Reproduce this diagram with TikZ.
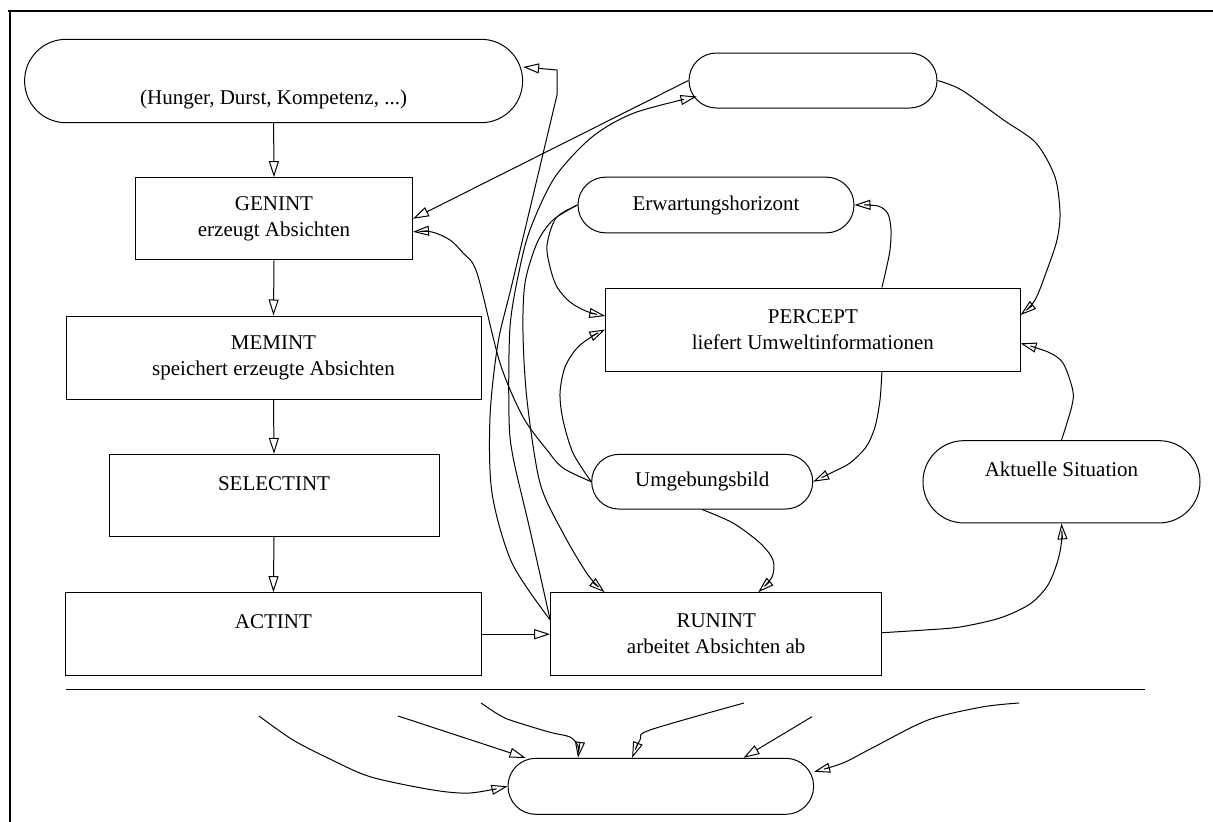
\documentclass[tikz,border=0pt]{standalone}
\usepackage{fontspec}
\setmainfont{Liberation Serif}
\usetikzlibrary{arrows.meta}
\begin{document}
\begin{tikzpicture}[x=1pt,y=-1pt,
  every node/.style={font=\fontsize{21}{26}\selectfont, inner sep=0pt, align=center},
  box/.style={draw, line width=1pt, rectangle},
  pill/.style={draw, line width=1pt, rectangle, rounded corners=#1},
  lowtext/.style={text height=4pt, text depth=15pt},
  arr/.style={line width=1pt, -{Triangle[open,length=16pt,width=10pt]}},
  link/.style={line width=1pt},
  frameline/.style={line width=2.3pt},
  sepline/.style={line width=1.3pt}
]
\useasboundingbox (0,0) rectangle (1213,822);
% frame
\draw[frameline] (8,11) -- (1213,11);
\draw[frameline] (10,10) -- (10,822);
\draw[sepline] (66,689.3) -- (1145,689.3);

% nodes
\node[pill=41.5pt, minimum width=498pt, minimum height=83.4pt, text height=46pt, text depth=0pt] (motive) at (273.6,81) {(Hunger, Durst, Kompetenz, ...)};
\node[pill=27.4pt, minimum width=248pt, minimum height=55pt] (topright) at (813,80.5) {};
\node[box, minimum width=277pt, minimum height=82.3pt] (genint) at (274,218.8) {GENINT\\erzeugt Absichten};
\node[box, minimum width=415pt, minimum height=83pt] (memint) at (273.5,357.5) {MEMINT\\speichert erzeugte Absichten};
\node[box, lowtext, minimum width=330pt, minimum height=82.4pt] (selectint) at (274,495.5) {SELECTINT};
\node[box, lowtext, minimum width=415.3pt, minimum height=83pt] (actint) at (273.4,634.2) {ACTINT};
\node[box, minimum width=331pt, minimum height=83pt] (runint) at (716.2,634.2) {RUNINT\\arbeitet Absichten ab};
\node[pill=27.7pt, minimum width=276pt, minimum height=55.7pt] (erw) at (716,205) {Erwartungshorizont};
\node[box, minimum width=414.3pt, minimum height=83pt] (percept) at (812.9,329.5) {PERCEPT\\liefert Umweltinformationen};
\node[pill=27.2pt, minimum width=221pt, minimum height=54.7pt] (umg) at (702.2,481.7) {Umgebungsbild};
\node[pill=41pt, lowtext, minimum width=277pt, minimum height=82.3pt] (akt) at (1061.5,481.8) {Aktuelle Situation};
\node[pill=27.8pt, minimum width=305.6pt, minimum height=56pt] (bottom) at (660.8,786.3) {};

% main column
\draw[arr] (motive.south) -- (genint.north);
\draw[arr] (genint.south) -- (memint.north);
\draw[arr] (memint.south) -- (selectint.north);
\draw[arr] (selectint.south) -- (actint.north);
\draw[arr] (actint.east) -- (runint.west);

% into GENINT
\draw[arr] (topright.west) -- (genint.east);
\draw[arr] plot[smooth] coordinates {(umg.west) (563,468) (547,450) (523,417) (500,363) (477,273) (463,253) (450,240) (432,232) ([yshift=-13pt]genint.east)};

% from RUNINT upwards
\draw[arr] plot[smooth] coordinates {([yshift=14.2pt]runint.west) (512,563) (492,493) (490,417) (498,343) (513,280) (557,95)} -- (557,70) -- ([yshift=14pt]motive.east);
\draw[arr] plot[smooth] coordinates {([yshift=14.2pt]runint.west) (530,530) (513,457) (509,417) (510,327) (520,267) (531,227) (555,177) (592,137) (634,113) ([xshift=8pt,yshift=-16pt]topright.west)};

% Erwartungshorizont
\draw[arr] plot[smooth] coordinates {(erw.west) (553,220) (537,243) (525,283) (523,333) (527,400) (540,483) (563,533) (588,575) ([xshift=54.4pt]runint.north west)};
\draw[arr] plot[smooth] coordinates {(erw.west) (556,218) (547,245) (550,267) (557,287) (570,302) (587,311.5) ([yshift=13.5pt]percept.west)};

% Umgebungsbild
\draw[arr] plot[smooth] coordinates {(umg.west) (573,453) (563,420) (560,393) (565,367) (577,348) (592,336.5) (percept.west)};
\draw[arr] plot[smooth] coordinates {(umg.south) (733,523) (760,543) (773,560) (772,577) ([xshift=42pt]runint.north)};

% PERCEPT
\draw[arr] plot[smooth] coordinates {([xshift=69pt]percept.north) (886,270) (890,250) (891,230) (888,214) (878,206) (erw.east)};
\draw[arr] plot[smooth] coordinates {([xshift=69pt]percept.south) (880,400) (875,427) (866,447) (850,463) (833,472) (umg.east)};
\draw[arr] plot[smooth] coordinates {(topright.east) (961.5,90) (1003.6,120) (1036,143) (1055,177) (1060,213) (1057,240) (1047,270) (1035,300) ([yshift=14.5pt]percept.east)};
\draw[arr] plot[smooth] coordinates {(akt.north) (1071.7,406.7) (1072.7,390) (1063,363) (1048,352) ([yshift=-13.8pt]percept.east)};
\draw[arr] plot[smooth] coordinates {([yshift=1.5pt]runint.east) (925,630) (960,627) (1000,618) (1030,604) (1048,585) (1058,560) (1061.7,540) (akt.south)};

% bottom part
\coordinate (fa) at (259,716);
\coordinate (fb) at (398,716);
\coordinate (fc) at (481,703);
\coordinate (fd) at (744,703);
\coordinate (fe) at (812,716.7);
\coordinate (ff) at (1019,703);
\draw[arr] plot[smooth] coordinates {(fa) (293,740) (332,760) (371,777) (433,790) (470,793) (bottom.west)};
\draw[arr] (fb) -- ([xshift=18pt]bottom.north west);
\draw[arr] plot[smooth] coordinates {(fc) (496,713) (510,720) (549,732) (570,737) (578,746) ([xshift=70.5pt]bottom.north west)};
\draw[arr] plot[smooth] coordinates {(fd) (650,730) (640,740) ([xshift=124.6pt]bottom.north west)};
\draw[arr] (fe) -- ([xshift=236pt]bottom.north west);
\draw[arr] plot[smooth] coordinates {(ff) (982,707) (928,720) (874,747) (843,763) ([yshift=14.6pt]bottom.east)};
\end{tikzpicture}
\end{document}
